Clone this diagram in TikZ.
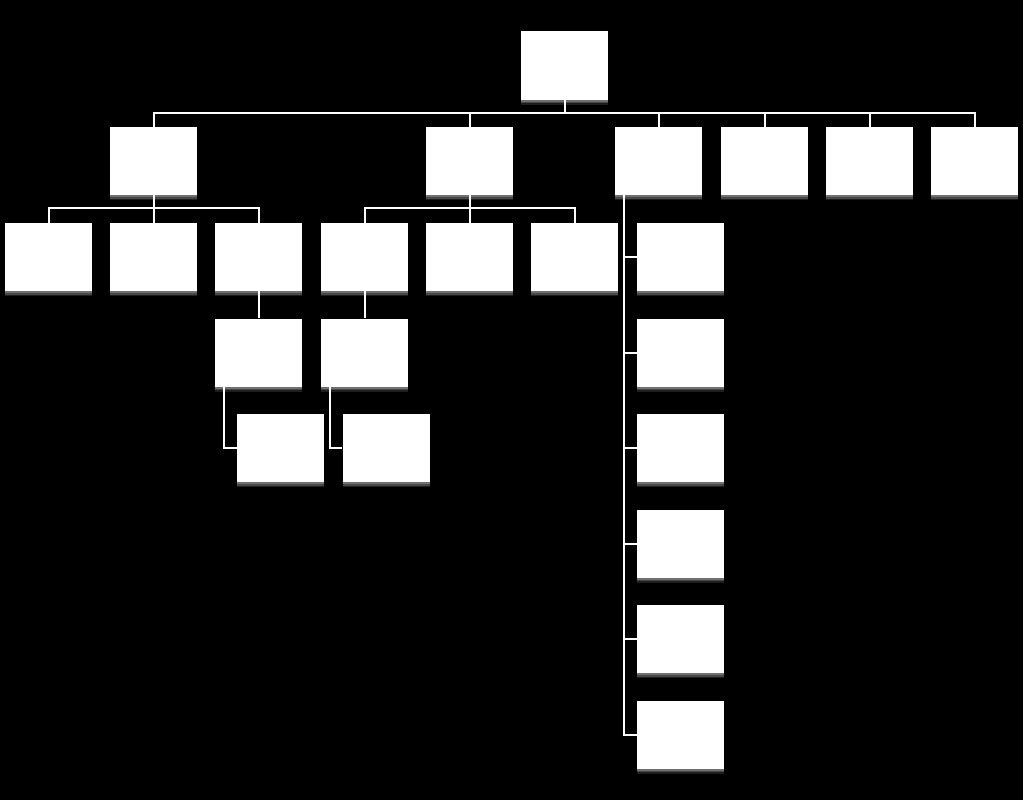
\documentclass[tikz,border=0pt]{standalone}
\usetikzlibrary{shadows}
\begin{document}
\begin{tikzpicture}[x=1pt,y=-1pt,
  box/.style={fill=white,draw=none,minimum width=87pt,minimum height=68pt,inner sep=0pt,
    drop shadow={shadow xshift=0pt,shadow yshift=-5pt,fill=gray!80,opacity=0.2},
    drop shadow={shadow xshift=0pt,shadow yshift=-3.5pt,fill=gray!80,opacity=0.35},
    drop shadow={shadow xshift=0pt,shadow yshift=-2pt,fill=gray!80,opacity=0.5}},
  link/.style={draw=white,line width=2pt}]
\fill[black] (0,0) rectangle (1023,800);
\useasboundingbox (0,0) rectangle (1023,800);
% top
\node[box] (top) at (564.5,65.5) {};
% row 1
\node[box] (a) at (153.5,161) {};
\node[box] (b) at (469.5,161) {};
\node[box] (c) at (658.5,161) {};
\node[box] (d) at (764.5,161) {};
\node[box] (e) at (869.5,161) {};
\node[box] (f) at (974.5,161) {};
% row 2
\node[box] (a1) at (48.5,257) {};
\node[box] (a2) at (153.5,257) {};
\node[box] (a3) at (258.5,257) {};
\node[box] (b1) at (364.5,257) {};
\node[box] (b2) at (469.5,257) {};
\node[box] (b3) at (574.5,257) {};
% row 3
\node[box] (a31) at (258.5,352.5) {};
\node[box] (b11) at (364.5,352.5) {};
% row 4
\node[box] (a311) at (280.5,448) {};
\node[box] (b111) at (386,448) {};
% vertical list
\node[box] (c1) at (680.5,257) {};
\node[box] (c2) at (680.5,352.5) {};
\node[box] (c3) at (680.5,448) {};
\node[box] (c4) at (680.5,543.5) {};
\node[box] (c5) at (680.5,639) {};
\node[box] (c6) at (680.5,734.5) {};
% connectors
\coordinate (bus) at (564.5,112.5);
\path[link] (top.south) -- (bus);
\path[link] (a.north) |- (bus) -| (f.north);
\foreach \n in {b,c,d,e} \path[link] (\n.north) -- (\n.north |- bus);
\coordinate (busa) at (153.5,208);
\path[link] (a1.north) |- (busa) -| (a3.north);
\path[link] (a.south) -- (a2.north);
\coordinate (busb) at (469.5,208);
\path[link] (b1.north) |- (busb) -| (b3.north);
\path[link] (b.south) -- (b2.north);
\path[link] (a3.south) -- (a31.north);
\path[link] (b1.south) -- (b11.north);
\path[link] ([xshift=9pt]a31.south west) |- (a311.west);
\path[link] ([xshift=9pt]b11.south west) |- (b111.west);
\coordinate (spine) at (623.5,0);
\path[link] (c.south -| spine) |- (c6.west);
\foreach \n in {c1,c2,c3,c4,c5} \path[link] (\n.west -| spine) -- (\n.west);
\end{tikzpicture}
\end{document}
